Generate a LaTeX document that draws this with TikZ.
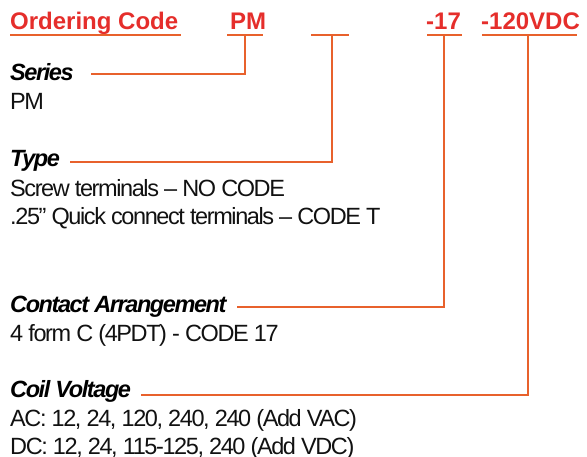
\documentclass[tikz,border=0pt]{standalone}
\usepackage{fontspec}
\setmainfont{Liberation Sans}
\newfontfamily\tightfont[LetterSpace=-6]{Liberation Sans}
\usetikzlibrary{positioning}
\definecolor{codered}{HTML}{E52E2B}
\definecolor{leader}{HTML}{E8612C}
\definecolor{bodytext}{HTML}{111111}

\begin{document}
\begin{tikzpicture}[
    x=1pt, y=-1pt,
    every node/.style={inner sep=0pt,anchor=base west},
    code/.style={font=\fontsize{24}{28}\selectfont\bfseries,text=codered},
    heading/.style={font=\tightfont\fontsize{23.5}{28}\selectfont\bfseries\itshape,text=black},
    entry/.style={font=\tightfont\fontsize{23.5}{28}\selectfont,text=bodytext},
    uline/.style={draw=leader,line width=2.6pt}
  ]
    \useasboundingbox (0,0) rectangle (587,457);

    % ordering code header
    \node[code] (hdr)   at (10,30)  {Ordering Code};
    \node[code] (cPM)   at (230,30) {PM};
    \node[code] (c17)   at (426,30) {-17};
    \node[code] (cVolt) at (481,30) {-120VDC};
    \foreach \a/\b in {10/181,227/263,311/349,427/462,482/577}
      \draw[uline] (\a,35) -- (\b,35);

    % stems and leader ends
    \coordinate (sPM)   at (245,35);
    \coordinate (sType) at (332,35);
    \coordinate (s17)   at (444,35);
    \coordinate (sVolt) at (528,35);
    \coordinate (eSeries) at (91,74);
    \coordinate (eType)   at (70,162);
    \coordinate (eCont)   at (237,307);
    \coordinate (eCoil)   at (141,395);

    % fields
    \node[heading] (series)  at (10,81)  {Series};
    \node[entry]   (seriesPM) at (10,110) {PM};
    \node[heading] (type)    at (10,167) {Type};
    \node[entry]   (screw)   at (10,197) {Screw terminals – NO CODE};
    \node[entry]   (quick)   at (10,225) {.25” Quick connect terminals – CODE T};
    \node[heading] (contact) at (10,313) {Contact Arrangement};
    \node[entry]   (form)    at (10,342) {4 form C (4PDT) - CODE 17};
    \node[heading] (coil)    at (10,397) {Coil Voltage};
    \node[entry]   (ac)      at (10,426) {AC: 12, 24, 120, 240, 240 (Add VAC)};
    \node[entry]   (dc)      at (10,454) {DC: 12, 24, 115-125, 240 (Add VDC)};

    \draw[uline] (sPM)   |- (eSeries);
    \draw[uline] (sType) |- (eType);
    \draw[uline] (s17)   |- (eCont);
    \draw[uline] (sVolt) |- (eCoil);
  \end{tikzpicture}
\end{document}
